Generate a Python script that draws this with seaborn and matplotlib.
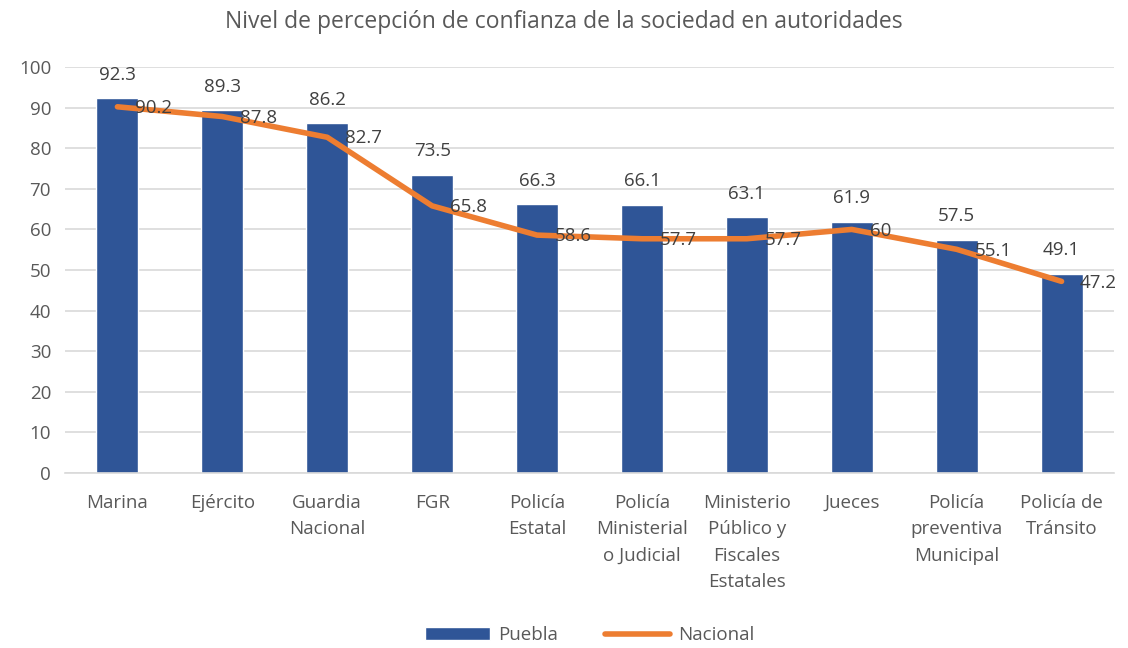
import pandas as pd
import matplotlib
matplotlib.use("Agg")
import matplotlib.pyplot as plt
import seaborn as sns

# ------------------------- DATA ------------------------- #
categories = ["Marina", "Ejército", "Guardia\nNacional", "FGR", "Policía\nEstatal",
              "Policía\nMinisterial\no Judicial", "Ministerio\nPúblico y\nFiscales\nEstatales",
              "Jueces", "Policía\npreventiva\nMunicipal", "Policía de\nTránsito"]
puebla = [92.3, 89.3, 86.2, 73.5, 66.3, 66.1, 63.1, 61.9, 57.5, 49.1]
nacional = [90.2, 87.8, 82.7, 65.8, 58.6, 57.7, 57.7, 60, 55.1, 47.2]
nacional_labels = ["90.2", "87.8", "82.7", "65.8", "58.6", "57.7", "57.7", "60", "55.1", "47.2"]

df = pd.DataFrame({"idx": range(len(categories)), "Puebla": puebla, "Nacional": nacional})

BLUE = "#2F5597"
ORANGE = "#ED7D31"
GRAY = "#595959"

# ------------------------- PLOT ------------------------- #
sns.set_style("white")
plt.rcParams["font.family"] = ["Open Sans", "DejaVu Sans"]

fig = plt.figure(figsize=(11.28, 6.48), dpi=100)
ax = fig.add_axes([0.0576, 0.270, 0.930, 0.6266])

sns.barplot(data=df, x="idx", y="Puebla", color=BLUE, width=0.4, saturation=1,
            ax=ax, label="Puebla", zorder=2)
sns.lineplot(data=df, x="idx", y="Nacional", color=ORANGE, linewidth=4,
             ax=ax, label="Nacional", zorder=3)

for i, v in enumerate(puebla):
    ax.text(i, v + 3.5, f"{v}", ha="center", va="bottom", fontsize=13.5, color="#404040", zorder=4)
for i, v in enumerate(nacional):
    ax.text(i + 0.17, v - 0.3, nacional_labels[i], ha="left", va="center", fontsize=13.5,
            color="#404040", zorder=4)

ax.set_xlim(-0.5, len(categories) - 0.5)
ax.set_ylim(0, 100)
ax.set_yticks(range(0, 101, 10))
ax.set_xticks(range(len(categories)))
ax.set_xticklabels(categories, fontsize=13.5, color=GRAY, linespacing=1.6, va="top")
ax.tick_params(axis="y", labelsize=13.5, labelcolor=GRAY, length=0, pad=10)
ax.tick_params(axis="x", length=0, pad=15)
ax.yaxis.grid(True, color="#D9D9D9", linewidth=1.2, zorder=0)
ax.set_axisbelow(True)
for s in ["top", "right", "left"]:
    ax.spines[s].set_visible(False)
ax.spines["bottom"].set_color("#D9D9D9")
ax.spines["bottom"].set_linewidth(1.2)
ax.set_xlabel("")
ax.set_ylabel("")

fig.suptitle("Nivel de percepción de confianza de la sociedad en autoridades",
             y=0.985, fontsize=16.5, color=GRAY)

# legend order: Puebla first, then Nacional
handles, labels = ax.get_legend_handles_labels()
order = [labels.index("Puebla"), labels.index("Nacional")]
ax.legend([handles[k] for k in order], [labels[k] for k in order], loc="center",
          bbox_to_anchor=(0.5, -0.40), ncol=2, frameon=False,
          fontsize=13.5, labelcolor=GRAY, handlelength=3.5, columnspacing=2.5,
          handletextpad=0.4)

fig.savefig("out.png", dpi=100)
